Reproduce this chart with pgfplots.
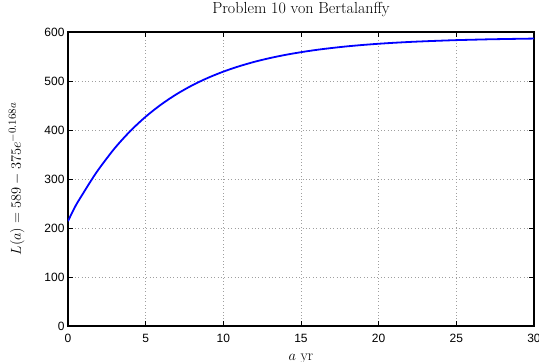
\documentclass[border=0pt]{standalone}
\usepackage{fontspec}
\usepackage{pgfplots}
\pgfplotsset{compat=1.18}
\newfontfamily\ticksf{Liberation Sans}
\begin{document}
\begin{tikzpicture}
\begin{axis}[
  scale only axis,
  width=466pt, height=294pt,
  xmin=0, xmax=30, ymin=0, ymax=600,
  xtick={0,5,...,30}, ytick={0,100,...,600},
  tick align=inside,
  major tick length=5pt,
  tick style={black, line width=0.8pt},
  axis line style={black, line width=1.5pt},
  grid=major,
  major grid style={gray!75, dash pattern=on 0.8pt off 2.6pt, line width=0.6pt},
  /pgf/number format/assume math mode=true,
  tick label style={font=\ticksf\fontsize{12}{14}\selectfont},
  xticklabel style={yshift=-4.5pt},
  title={Problem 10 von Bertalanffy},
  title style={font=\fontsize{16}{19}\selectfont, at={(axis description cs:0.5,1.0408)}, anchor=base},
  xlabel={$a$ yr},
  xlabel style={font=\fontsize{15}{18}\selectfont, at={(axis description cs:0.5,-0.119)}, anchor=base},
  ylabel={$L(a) = 589 - 375e^{-0.168a}$},
  ylabel style={font=\fontsize{15}{18}\selectfont, at={(axis description cs:-0.1009,0.5)}, anchor=base, rotate=0},
]
\addplot[blue, line width=1.8pt, smooth] coordinates {
(0,214.0) (0.5,245.9) (1,272.0) (1.5,297.4) (2,321.0) (3,362.5) (4,397.5) (5,427.1)
(6,452.1) (7,473.3) (8,491.2) (9,506.3) (10,519.1) (11,529.9) (12,539.1)
(13,546.8) (14,553.3) (15,558.8) (16,563.5) (17,567.4) (18,570.8) (19,573.6)
(20,576.0) (21,578.0) (22,579.7) (23,581.1) (24,582.3) (25,583.4) (26,584.2)
(27,585.0) (28,585.6) (29,586.1) (30,586.6)
};
\end{axis}
\pgfresetboundingbox
\path[use as bounding box] ([xshift=-68pt,yshift=-36pt]current axis.south west) rectangle ([xshift=5pt,yshift=32pt]current axis.north east);
\end{tikzpicture}
\end{document}
